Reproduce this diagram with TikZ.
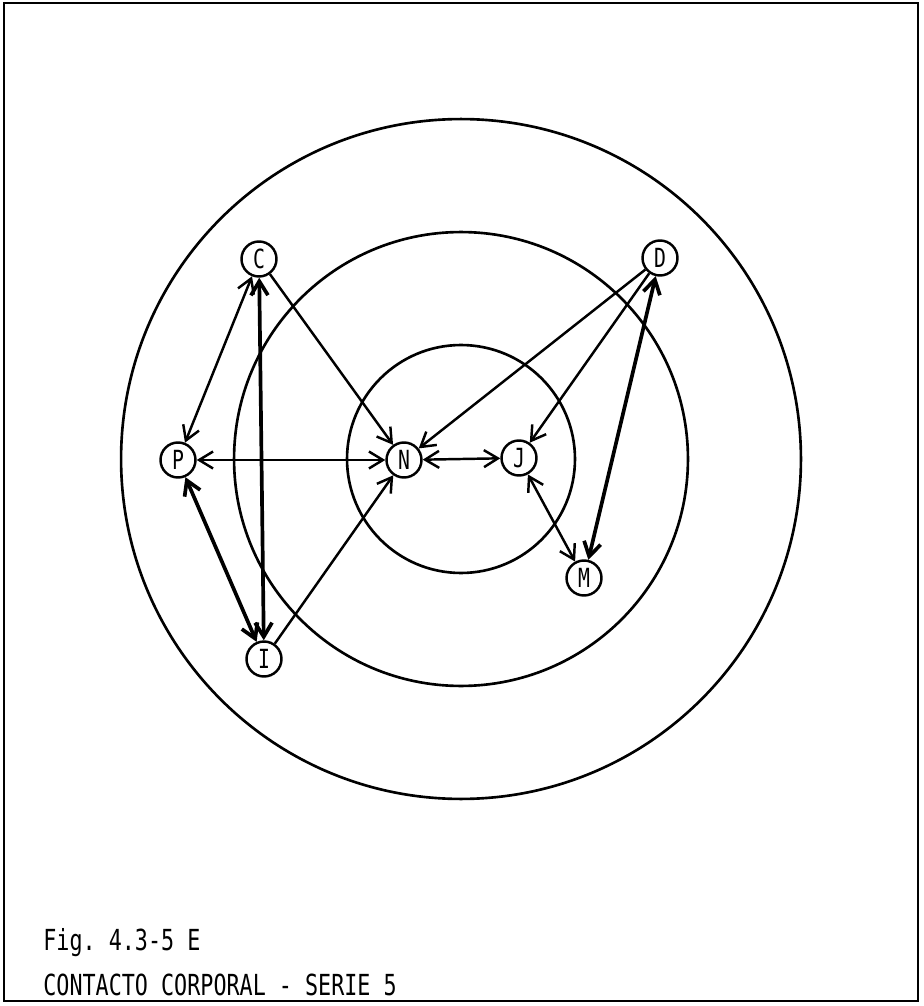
\documentclass[tikz,border=0pt]{standalone}
\usepackage{fontspec}
\setmonofont[FakeStretch=0.75]{DejaVu Sans Mono}
\usetikzlibrary{arrows.meta}

\begin{document}
\begin{tikzpicture}[x=0.02cm,y=-0.02cm,
    person/.style={circle,draw,line width=1.4pt,minimum size=0.7cm,inner sep=0pt,
        fill=white,font=\ttfamily\fontsize{15}{15}\selectfont},
    link/.style={line width=1.4pt},
    strong/.style={line width=2.1pt},
    ring/.style={line width=1.5pt},
    caption/.style={anchor=base west,inner sep=0pt,font=\ttfamily\fontsize{16.5}{16.5}\selectfont},
    >={Straight Barb[length=0.28cm,width=0.34cm]}]
    \useasboundingbox (0,0) rectangle (923,1006);

    % Frame
    \draw[line width=1.5pt] (4,3) rectangle (918,1001);

    % Rings
    \draw[ring] (461,459) circle (6.8cm);
    \draw[ring] (461,459) circle (4.54cm);
    \draw[ring] (461,459) circle (2.28cm);

    % Persons
    \node[person] (C) at (259,259) {C};
    \node[person] (D) at (660,258) {D};
    \node[person] (P) at (178,460) {P};
    \node[person] (N) at (404,460) {N};
    \node[person] (J) at (519,458) {J};
    \node[person] (M) at (584,578) {M};
    \node[person] (I) at (264,659) {I};

    % Contacts (left group)
    \draw[link,<->] (C) -- (P);
    \draw[strong,<->] (C) -- (I);
    \draw[link,->] (C) -- (N);
    \draw[link,<->] (P) -- (N);
    \draw[strong,<->] (P) -- (I);
    \draw[link,->] (I) -- (N);

    % Contacts (right group)
    \draw[link,->] (D) -- (N);
    \draw[link,->] (D) -- (J);
    \draw[strong,<->] (D) -- (M);
    \draw[link,<->] (N) -- (J);
    \draw[link,<->] (J) -- (M);

    % Caption
    \node[caption] (fig) at (43,950) {Fig. 4.3-5 E};
    \node[caption] (title) at (43,995) {CONTACTO CORPORAL - SERIE 5};
\end{tikzpicture}
\end{document}
